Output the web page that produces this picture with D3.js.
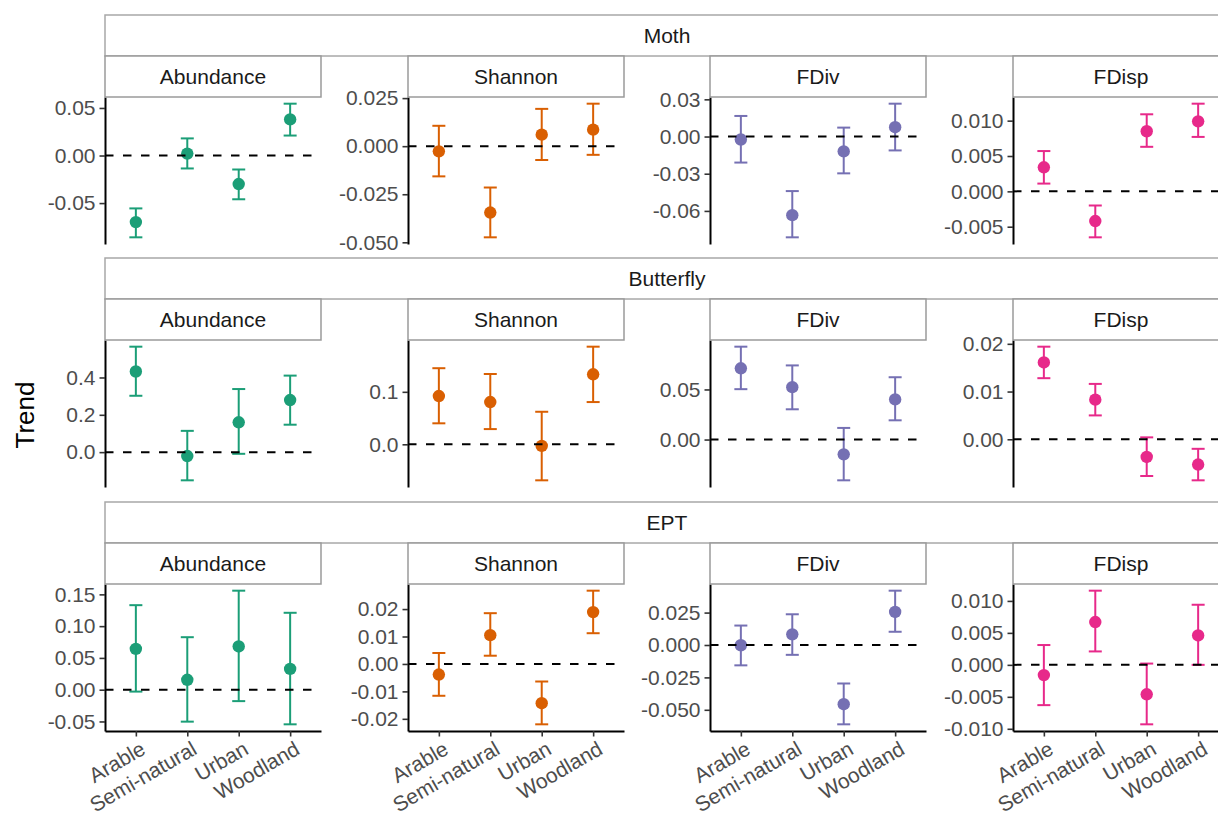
<!DOCTYPE html>
<html>
<head>
<meta charset="utf-8">
<script src="https://cdn.jsdelivr.net/npm/d3@7"></script>
<style>
  body { margin: 0; background: #fff; }
  text { font-family: "Liberation Sans", Arial, sans-serif; }
</style>
</head>
<body>
<div id="chart"></div>
<script>
const taxa = ['Moth', 'Butterfly', 'EPT']
const metrics = ['Abundance', 'Shannon', 'FDiv', 'FDisp']
const habitats = ['Arable', 'Semi-natural', 'Urban', 'Woodland']
const metricColours = ['#1B9E77', '#D95F02', '#7570B3', '#E7298A']

// one inner array per metric, values in habitat order
const mothEst = [[-0.070, 0.002, -0.030, 0.038], [-0.0027, -0.0345, 0.006, 0.0086], [-0.0024, -0.0634, -0.012, 0.0075], [0.0034, -0.0042, 0.0085, 0.0099]]
const mothLow = [[-0.086, -0.0136, -0.046, 0.021], [-0.0157, -0.0474, -0.0072, -0.0045], [-0.021, -0.0813, -0.0297, -0.0112], [0.0011, -0.0065, 0.0063, 0.0077]]
const mothUpp = [[-0.0556, 0.018, -0.0147, 0.0545], [0.0106, -0.0215, 0.0194, 0.0221], [0.0166, -0.044, 0.0072, 0.0265], [0.0057, -0.002, 0.0109, 0.0124]]

const butterflyEst = [[0.432, -0.021, 0.16, 0.279], [0.092, 0.0805, -0.003, 0.1334], [0.0711, 0.0523, -0.0148, 0.0401], [0.0161, 0.0083, -0.0037, -0.0053]]
const butterflyLow = [[0.302, -0.151, -0.009, 0.147], [0.040, 0.029, -0.0686, 0.0805], [0.0503, 0.0302, -0.0407, 0.0192], [0.0128, 0.005, -0.0077, -0.0086]]
const butterflyUpp = [[0.565, 0.114, 0.338, 0.41], [0.145, 0.134, 0.062, 0.186], [0.0927, 0.074, 0.0116, 0.0622], [0.0194, 0.0116, 0.0004, -0.002]]

const eptEst = [[0.0643, 0.0156, 0.068, 0.0327], [-0.00385, 0.0105, -0.0143, 0.0189], [-0.0002, 0.0082, -0.0457, 0.0255], [-0.0016, 0.0067, -0.0046, 0.0046]]
const eptLow = [[-0.003, -0.0503, -0.018, -0.0545], [-0.0116, 0.003, -0.022, 0.0112], [-0.0157, -0.0076, -0.0612, 0.0102], [-0.0063, 0.0021, -0.0093, 0.0]]
const eptUpp = [[0.133, 0.0826, 0.1558, 0.121], [0.004, 0.0185, -0.0064, 0.0267], [0.015, 0.0237, -0.0297, 0.0419], [0.0031, 0.0116, 0.0002, 0.0094]]

const mothTicks = [['-0.05', '0.00', '0.05'], ['-0.050', '-0.025', '0.000', '0.025'], ['-0.06', '-0.03', '0.00', '0.03'], ['-0.005', '0.000', '0.005', '0.010']]
const butterflyTicks = [['0.0', '0.2', '0.4'], ['0.0', '0.1'], ['0.00', '0.05'], ['0.00', '0.01', '0.02']]
const eptTicks = [['-0.05', '0.00', '0.05', '0.10', '0.15'], ['-0.02', '-0.01', '0.00', '0.01', '0.02'], ['-0.050', '-0.025', '0.000', '0.025'], ['-0.010', '-0.005', '0.000', '0.005', '0.010']]

const estimates = [mothEst, butterflyEst, eptEst]
const lowers = [mothLow, butterflyLow, eptLow]
const uppers = [mothUpp, butterflyUpp, eptUpp]
const ticks = [mothTicks, butterflyTicks, eptTicks]

const width = 1218
const height = 816
const stripH = 41
const panelW = 216
const panelH = 147
const colLeft = [105, 408, 710, 1013]
const rowTop = [15, 258, 502]
const fontSize = 21

const svg = d3.select('#chart')
  .append('svg')
  .attr('width', width)
  .attr('height', height)

svg.append('rect').attr('width', width).attr('height', height).attr('fill', '#fff')

function styleText(sel) {
  sel.attr('fill', '#4d4d4d')
    .style('font-size', fontSize + 'px')
    .style('font-family', '"Liberation Sans", Arial, sans-serif')
}

function drawPanel(r, m) {
  let top = rowTop[r] + stripH * 2
  let g = svg.append('g')
    .attr('transform', `translate(${colLeft[m]},${top})`)

  let est = estimates[r][m], lo = lowers[r][m], up = uppers[r][m]
  let rows = habitats.map((h, i) => ({habitat: h, est: est[i], lo: lo[i], up: up[i]}))

  let x = d3.scalePoint()
    .domain(habitats)
    .range([0, panelW])
    .padding(0.6)

  let lo0 = Math.min(0, d3.min(lo)), hi0 = Math.max(0, d3.max(up))
  let pad = (hi0 - lo0) * 0.05
  let y = d3.scaleLinear()
    .domain([lo0 - pad, hi0 + pad])
    .range([panelH, 0])

  let colour = metricColours[m]

  // error bars
  let bars = g.selectAll('.bar')
    .data(rows)
    .enter()
    .append('g')
    .attr('class', 'bar')
    .attr('stroke', colour)
    .attr('stroke-width', 2)
  bars.append('line')
    .attr('x1', d => x(d.habitat)).attr('x2', d => x(d.habitat))
    .attr('y1', d => y(d.lo)).attr('y2', d => y(d.up))
  bars.append('line')
    .attr('x1', d => x(d.habitat) - 6.5).attr('x2', d => x(d.habitat) + 6.5)
    .attr('y1', d => y(d.lo)).attr('y2', d => y(d.lo))
  bars.append('line')
    .attr('x1', d => x(d.habitat) - 6.5).attr('x2', d => x(d.habitat) + 6.5)
    .attr('y1', d => y(d.up)).attr('y2', d => y(d.up))

  g.selectAll('.pt')
    .data(rows)
    .enter()
    .append('circle')
    .attr('class', 'pt')
    .attr('cx', d => x(d.habitat))
    .attr('cy', d => y(d.est))
    .attr('r', 6.2)
    .attr('fill', colour)

  g.append('line')
    .attr('x1', 0).attr('x2', panelW)
    .attr('y1', y(0)).attr('y2', y(0))
    .attr('stroke', '#000')
    .attr('stroke-width', 2)
    .attr('stroke-dasharray', '8.5,9.5')

  let labels = ticks[r][m]
  let yAxis = d3.axisLeft(y)
    .tickValues(labels.map(Number))
    .tickFormat((d, i) => labels[i])
    .tickSize(5.5)
    .tickSizeOuter(0)
    .tickPadding(4)
  let ya = g.append('g').call(yAxis)
  ya.select('.domain').attr('stroke', '#000').attr('stroke-width', 2)
  ya.selectAll('.tick line').attr('stroke', '#333').attr('stroke-width', 1.6)
  styleText(ya.selectAll('.tick text'))

  if (r === taxa.length - 1) {
    let xAxis = d3.axisBottom(x)
      .tickSize(5.5)
      .tickSizeOuter(0)
    let xa = g.append('g')
      .attr('transform', `translate(0,${panelH})`)
      .call(xAxis)
    xa.select('.domain').attr('stroke', '#000').attr('stroke-width', 2)
    xa.selectAll('.tick line').attr('stroke', '#333').attr('stroke-width', 1.6)
    styleText(xa.selectAll('.tick text'))
    xa.selectAll('.tick text')
      .attr('text-anchor', 'end')
      .attr('y', 0)
      .attr('dy', '0.72em')
      .attr('transform', 'translate(3,9) rotate(-30)')
  }

  // facet strip
  svg.append('rect')
    .attr('x', colLeft[m]).attr('y', rowTop[r] + stripH)
    .attr('width', panelW).attr('height', stripH)
    .attr('fill', '#fff').attr('stroke', '#9a9a9a').attr('stroke-width', 1.5)
  svg.append('text')
    .attr('x', colLeft[m] + panelW / 2)
    .attr('y', rowTop[r] + stripH * 1.5)
    .attr('dy', '0.35em')
    .attr('text-anchor', 'middle')
    .attr('fill', '#1a1a1a')
    .style('font-size', fontSize + 'px')
    .text(metrics[m])
}

function drawRow(r) {
  let left = colLeft[0], right = colLeft[3] + panelW
  svg.append('rect')
    .attr('x', left).attr('y', rowTop[r])
    .attr('width', right - left).attr('height', stripH)
    .attr('fill', '#fff').attr('stroke', '#a8a8a8').attr('stroke-width', 1.5)
  svg.append('text')
    .attr('x', (left + right) / 2)
    .attr('y', rowTop[r] + stripH / 2)
    .attr('dy', '0.35em')
    .attr('text-anchor', 'middle')
    .attr('fill', '#1a1a1a')
    .style('font-size', fontSize + 'px')
    .text(taxa[r])
  metrics.forEach((d, m) => drawPanel(r, m))
}

taxa.forEach((d, r) => drawRow(r))

svg.append('text')
  .attr('transform', 'translate(25,415) rotate(-90)')
  .attr('dy', '0.35em')
  .attr('text-anchor', 'middle')
  .attr('fill', '#000')
  .style('font-size', '26px')
  .text('Trend')
</script>
</body>
</html>
